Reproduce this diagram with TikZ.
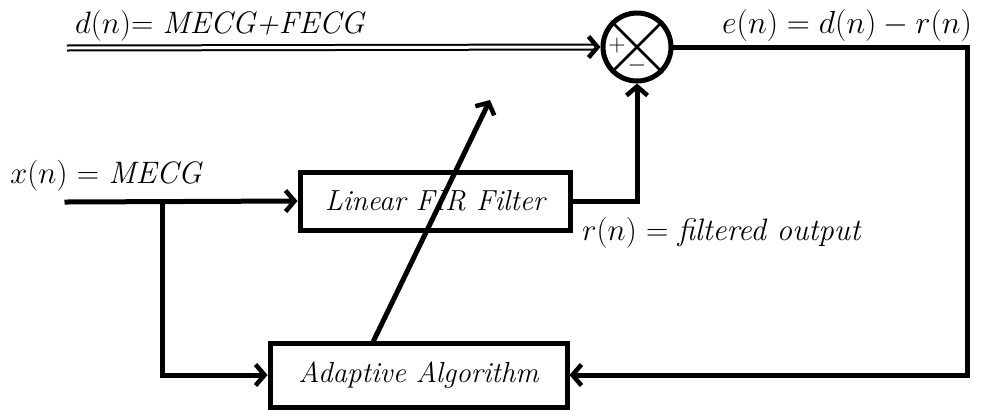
\RequirePackage{fix-cm}
\documentclass[tikz,border=0pt]{standalone}
\usetikzlibrary{arrows.meta,calc}
\begin{document}
\begin{tikzpicture}[x=1pt,y=-1pt,
  wire/.style={line width=5pt,line cap=rect},
  tip/.style={-{Straight Barb[length=9pt,width=21pt,line width=4.5pt]}},
  block/.style={draw,line width=5pt,rectangle,inner sep=0pt,font=\fontsize{29}{33}\selectfont\itshape},
  lbl/.style={inner sep=0pt,font=\fontsize{31}{35}\selectfont},
  sign/.style={inner sep=0pt,font=\fontsize{24}{26}\selectfont}]
\useasboundingbox (0,0) rectangle (1000,410);

% blocks
\node[block,minimum width=270pt,minimum height=58pt] (fir) at (435,201) {Linear FIR Filter};
\node[block,minimum width=297pt,minimum height=64pt] (alg) at (418.5,375) {Adaptive Algorithm};
\node[draw,circle,line width=5pt,minimum size=68pt,inner sep=0pt] (sum) at (637,47) {};
\draw[line width=2.5pt] (sum.45) -- (sum.225) (sum.135) -- (sum.-45);
\node[sign] (plus) at ($(sum.center)+(-20,-2)$) {$+$};
\node[sign] (minus) at ($(sum.center)+(0,18)$) {$-$};

% points on the wires
\coordinate (din) at (67,48);
\coordinate (xin) at (67,202);
\coordinate (br) at (162,202);
\coordinate (turn) at (967,47);
\coordinate (upd) at (373,342);
\coordinate (updtip) at (490,100);

% desired signal (double line)
\draw[double,double distance=3pt,line width=2pt,
  -{Straight Barb[length=9pt,width=21pt,line width=4.5pt]}] (din) -- (sum.west);

% reference input and its branch
\draw[wire,tip] (xin) -- (fir.west);
\draw[wire,tip] (br) |- (alg.west);

% filter output to the summing node
\draw[wire,tip] (fir.east) -| (sum.south);

% error fed back to the adaptive algorithm
\draw[wire,tip] (sum.east) -- (turn) |- (alg.east);

% coefficient update arrow
\draw[wire,line cap=butt,tip] (upd) -- (updtip);

% labels
\node[lbl,anchor=base west] (dlbl) at (75,33) {$d(n)$= \textit{MECG+FECG}};
\node[lbl,anchor=base west,font=\fontsize{32}{36}\selectfont] (elbl) at (722,33) {$e(n) = d(n) - r(n)$};
\node[lbl,anchor=base west] (xlbl) at (10,183) {$x(n)$ = \textit{MECG}};
\node[lbl,anchor=base west] (rlbl) at (582,240) {$r(n)$ = \textit{filtered output}};
\end{tikzpicture}
\end{document}
